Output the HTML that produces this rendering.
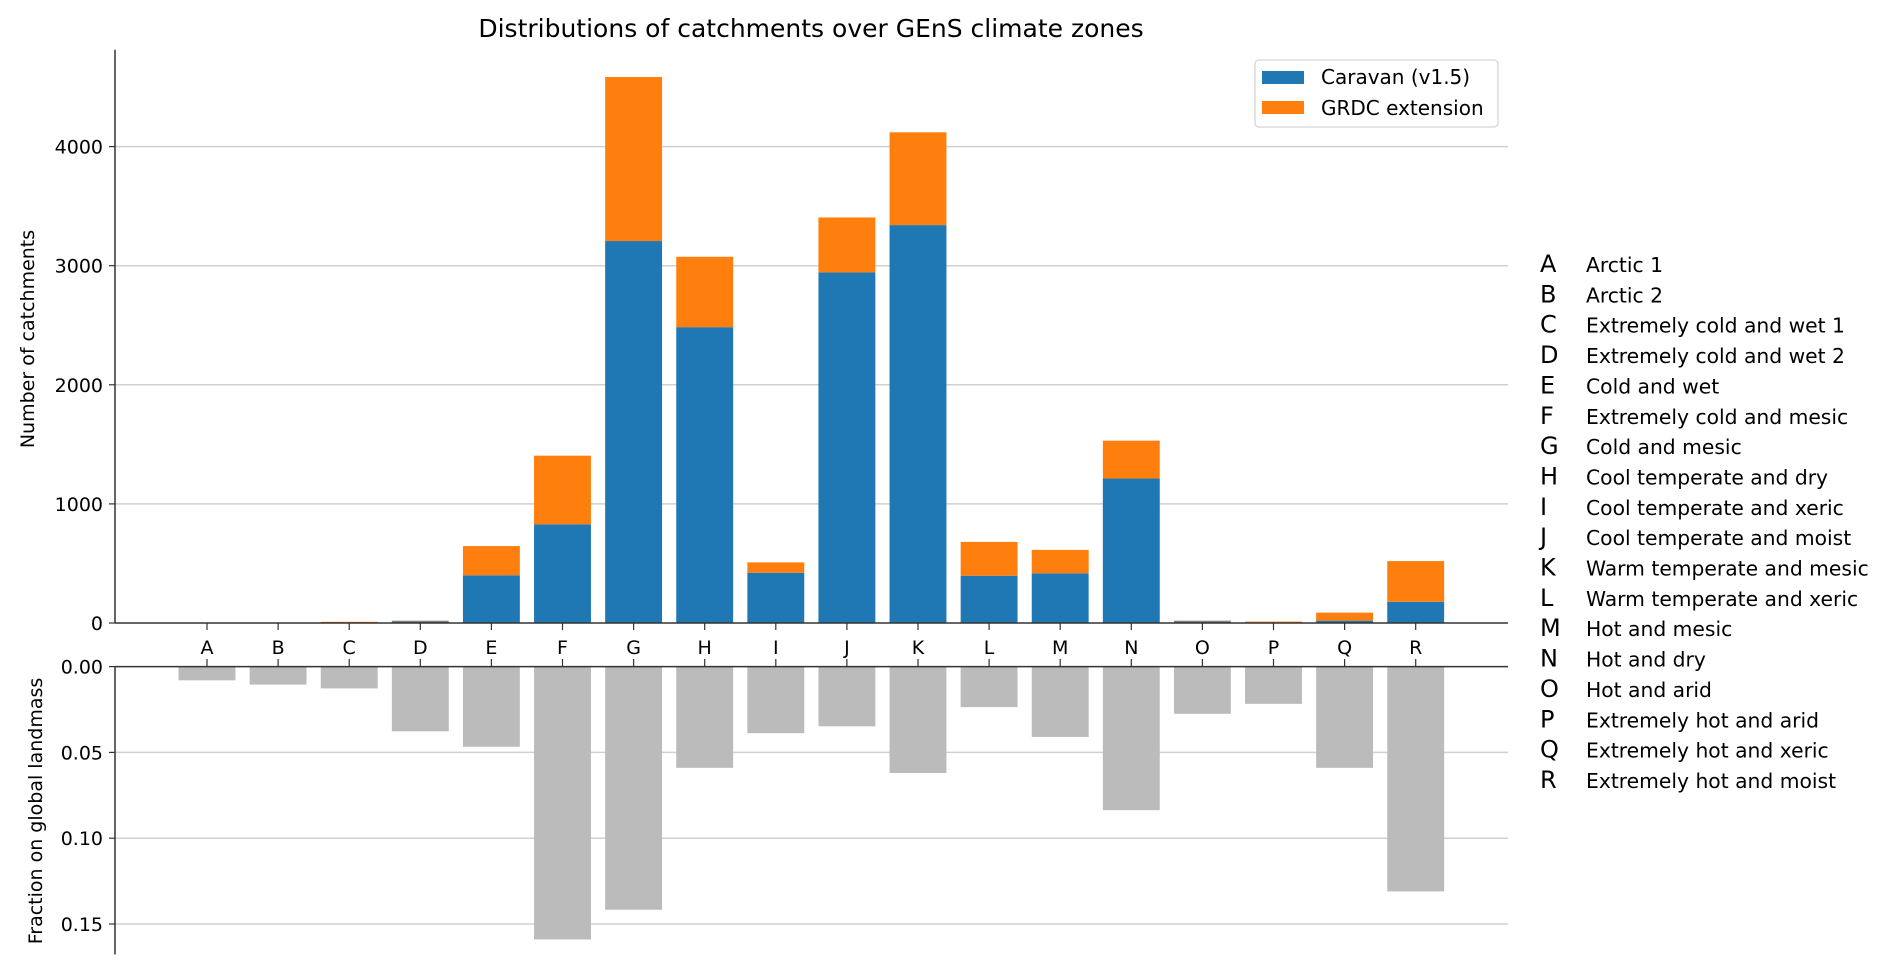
<!DOCTYPE html>
<html><head><meta charset="utf-8"><style>
html,body{margin:0;padding:0;background:#fff;}
svg{display:block;font-family:"DejaVu Sans","Liberation Sans",sans-serif;}
</style></head><body>
<svg id="chart" width="1892" height="975" viewBox="0 0 1892 975" xmlns="http://www.w3.org/2000/svg">
<text x="811" y="37" font-size="25" text-anchor="middle" fill="#000">Distributions of catchments over GEnS climate zones</text>
<g id="topg"></g><g id="botg"></g><g id="sideg"></g>
</svg>
<script>
const categories = ["A","B","C","D","E","F","G","H","I","J","K","L","M","N","O","P","Q","R"];
const zoneNames = ["Arctic 1","Arctic 2","Extremely cold and wet 1","Extremely cold and wet 2","Cold and wet","Extremely cold and mesic","Cold and mesic","Cool temperate and dry","Cool temperate and xeric","Cool temperate and moist","Warm temperate and mesic","Warm temperate and xeric","Hot and mesic","Hot and dry","Hot and arid","Extremely hot and arid","Extremely hot and xeric","Extremely hot and moist"];
const caravan = [0,3,0,15,400,828,3207,2484,422,2944,3341,397,417,1213,15,0,20,178];
const grdc = [0,0,10,5,246,577,1377,591,87,461,779,284,197,318,5,12,67,342];
const landFraction = [0.008,0.0105,0.0127,0.0377,0.0467,0.159,0.1417,0.059,0.0388,0.0348,0.062,0.0236,0.041,0.0837,0.0275,0.0217,0.059,0.131];
const topTicks = [0,1000,2000,3000,4000];
const topTickLabels = ["0","1000","2000","3000","4000"];
const botTicks = [0,0.05,0.10,0.15];
const botTickLabels = ["0.00","0.05","0.10","0.15"];

const NS="http://www.w3.org/2000/svg";
const X0=115, X1=1508;
const xC = i => 207 + i*71.1;
const BW = 56.9;
const yTop = v => 623 - v*0.1191;
const yBot = v => 666.6 + v*1716;
function mk(parent,tag,attrs,text){const e=document.createElementNS(NS,tag);for(const k in attrs)e.setAttribute(k,attrs[k]);if(text!==undefined)e.textContent=text;parent.appendChild(e);return e;}
const gTop=document.getElementById('topg'), gBot=document.getElementById('botg'), gSide=document.getElementById('sideg');

topTicks.forEach((t,i)=>{
  const y=yTop(t);
  if(t>0){const g=mk(gTop,'line',{x1:X0,x2:X1,y1:y,y2:y,stroke:'#d0d0d0','stroke-width':1.5});
  
  }
  mk(gTop,'line',{x1:X0-6,x2:X0,y1:y,y2:y,stroke:'#333','stroke-width':1.2});
  const l=mk(gTop,'text',{x:X0-12,y:y+7,'font-size':19,'text-anchor':'end'},topTickLabels[i]);
  
  
});
botTicks.forEach((t,i)=>{
  const y=yBot(t);
  if(t>0){const g=mk(gBot,'line',{x1:X0,x2:X1,y1:y,y2:y,stroke:'#d0d0d0','stroke-width':1.5});
  
  }
  mk(gBot,'line',{x1:X0-6,x2:X0,y1:y,y2:y,stroke:'#333','stroke-width':1.2});
  const l=mk(gBot,'text',{x:X0-12,y:y+7,'font-size':19,'text-anchor':'end'},botTickLabels[i]);
  
  
});

categories.forEach((c,i)=>{
  const x=xC(i)-BW/2;
  const b=mk(gTop,'rect',{x:x,y:yTop(caravan[i]),width:BW,height:yTop(0)-yTop(caravan[i]),fill:'#1f77b4'});
  
  
  const o=mk(gTop,'rect',{x:x,y:yTop(caravan[i]+grdc[i]),width:BW,height:yTop(caravan[i])-yTop(caravan[i]+grdc[i]),fill:'#ff7f0e'});
  
  
  const g=mk(gBot,'rect',{x:x,y:yBot(0),width:BW,height:yBot(landFraction[i])-yBot(0),fill:'#bbbbbb'});
  
  
  mk(gTop,'line',{x1:xC(i),x2:xC(i),y1:623,y2:630,stroke:'#333','stroke-width':1.2});
  mk(gBot,'line',{x1:xC(i),x2:xC(i),y1:659,y2:666.6,stroke:'#333','stroke-width':1.2});
  const t=mk(gTop,'text',{x:xC(i),y:654,'font-size':19,'text-anchor':'middle'},c);
  
  
  const y=272+i*30.35;
  const L=mk(gSide,'text',{x:1540,y:y,'font-size':24},c);
  
  
  const N=mk(gSide,'text',{x:1586,y:y,'font-size':20.3},zoneNames[i]);
  
  
});

mk(gTop,'line',{x1:X0,x2:X0,y1:49.7,y2:623,stroke:'#333','stroke-width':1.5});
mk(gTop,'line',{x1:X0,x2:X1,y1:623,y2:623,stroke:'#333','stroke-width':1.5});
mk(gBot,'line',{x1:X0,x2:X0,y1:666.6,y2:954.5,stroke:'#333','stroke-width':1.5});
mk(gBot,'line',{x1:X0,x2:X1,y1:666.6,y2:666.6,stroke:'#333','stroke-width':1.5});

const yl=mk(gTop,'text',{x:0,y:0,'font-size':19,'text-anchor':'middle',transform:'translate(34,339) rotate(-90)'},'Number of catchments');


const yl2=mk(gBot,'text',{x:0,y:0,'font-size':19,'text-anchor':'middle',transform:'translate(42,811) rotate(-90)'},'Fraction on global landmass');



const lg=mk(gTop,'g',{});


mk(lg,'rect',{x:1255,y:60,width:243,height:67,rx:4,fill:'#fff',stroke:'#d5d5d5','stroke-width':1.3});
const p1=mk(lg,'rect',{x:1262,y:71,width:42,height:13,fill:'#1f77b4'});


mk(lg,'text',{x:1321,y:84,'font-size':20},'Caravan (v1.5)');
const p2=mk(lg,'rect',{x:1262,y:101,width:42,height:13,fill:'#ff7f0e'});


mk(lg,'text',{x:1321,y:115,'font-size':20},'GRDC extension');
</script>
</body></html>
